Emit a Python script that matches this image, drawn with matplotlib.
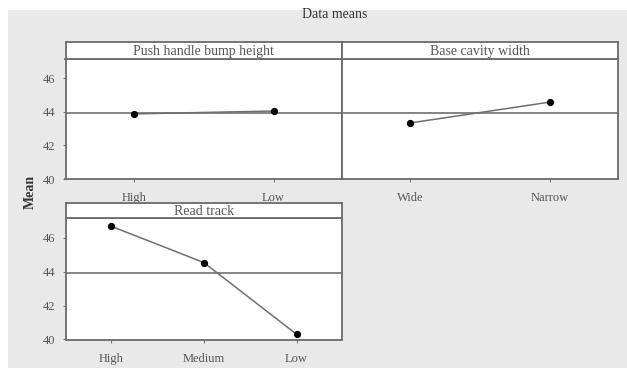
import matplotlib

matplotlib.use("Agg")
import matplotlib.pyplot as plt
from matplotlib.patches import Rectangle

plt.rcParams["font.family"] = ["Liberation Serif", "DejaVu Serif"]

# main effects for the three factors (data means)
push_levels = ["High", "Low"]
push_means = [43.88, 44.05]
cavity_levels = ["Wide", "Narrow"]
cavity_means = [43.34, 44.58]
tread_levels = ["High", "Medium", "Low"]
tread_means = [46.67, 44.53, 40.31]
grand_mean = 43.92
y_ticks = [40, 42, 44, 46]

W, H = 627, 368
fig = plt.figure(figsize=(W / 100, H / 100), dpi=100)
fig.patch.set_facecolor("white")
fig.add_artist(Rectangle((8 / W, 0), 1, 1 - 10 / H, transform=fig.transFigure,
                         facecolor="#e9e9e9", edgecolor="none", zorder=-10))

edge = "#6a6a6a"


def panel(left, top, right, bottom, strip_bottom, levels, means, title, show_y):
    # plot body
    ax = fig.add_axes([left / W, 1 - bottom / H, (right - left) / W,
                       (bottom - strip_bottom) / H])
    n = len(levels)
    x = list(range(n))
    ax.axhline(grand_mean, color="#707070", lw=1.2, zorder=1)
    ax.plot(x, means, color="#6e6e6e", lw=1.1, zorder=2)
    ax.plot(x, means, "o", color="black", ms=4.2, zorder=3)
    ax.set_xlim(-0.49, n - 0.51)
    ax.set_ylim(40, 47.15)
    ax.set_xticks(x)
    ax.set_xticklabels(levels, fontsize=9, color="#555555")
    ax.set_yticks(y_ticks)
    if show_y:
        ax.set_yticklabels([str(t) for t in y_ticks], fontsize=9, color="#555555")
    else:
        ax.tick_params(axis="y", left=False, labelleft=False)
    ax.tick_params(length=2.5, width=0.8, color="#777777", pad=5)
    ax.tick_params(axis="x", pad=7)
    for s in ax.spines.values():
        s.set_color(edge)
        s.set_linewidth(1.3)
    # title strip
    st = fig.add_axes([left / W, 1 - strip_bottom / H, (right - left) / W,
                       (strip_bottom - top) / H])
    st.set_xticks([])
    st.set_yticks([])
    for s in st.spines.values():
        s.set_color(edge)
        s.set_linewidth(1.3)
    st.text(0.5, 0.42, title, ha="center", va="center", fontsize=10,
            color="#555555", transform=st.transAxes)
    return ax


panel(65.5, 42, 342, 179, 59, push_levels, push_means, "Push handle bump height", True)
panel(342, 42, 618, 179, 59, cavity_levels, cavity_means, "Base cavity width", False)
panel(65.5, 202.5, 342, 339.5, 218, tread_levels, tread_means, "Read track", True)

fig.text(335 / W, 1 - 15 / H, "Data means", ha="center", va="center",
         fontsize=10, color="#333333")
fig.text(30 / W, 1 - 192 / H, "Mean", ha="center", va="center", rotation=90,
         fontsize=10, fontweight="bold", color="#333333")

fig.savefig("out.png", dpi=100)
